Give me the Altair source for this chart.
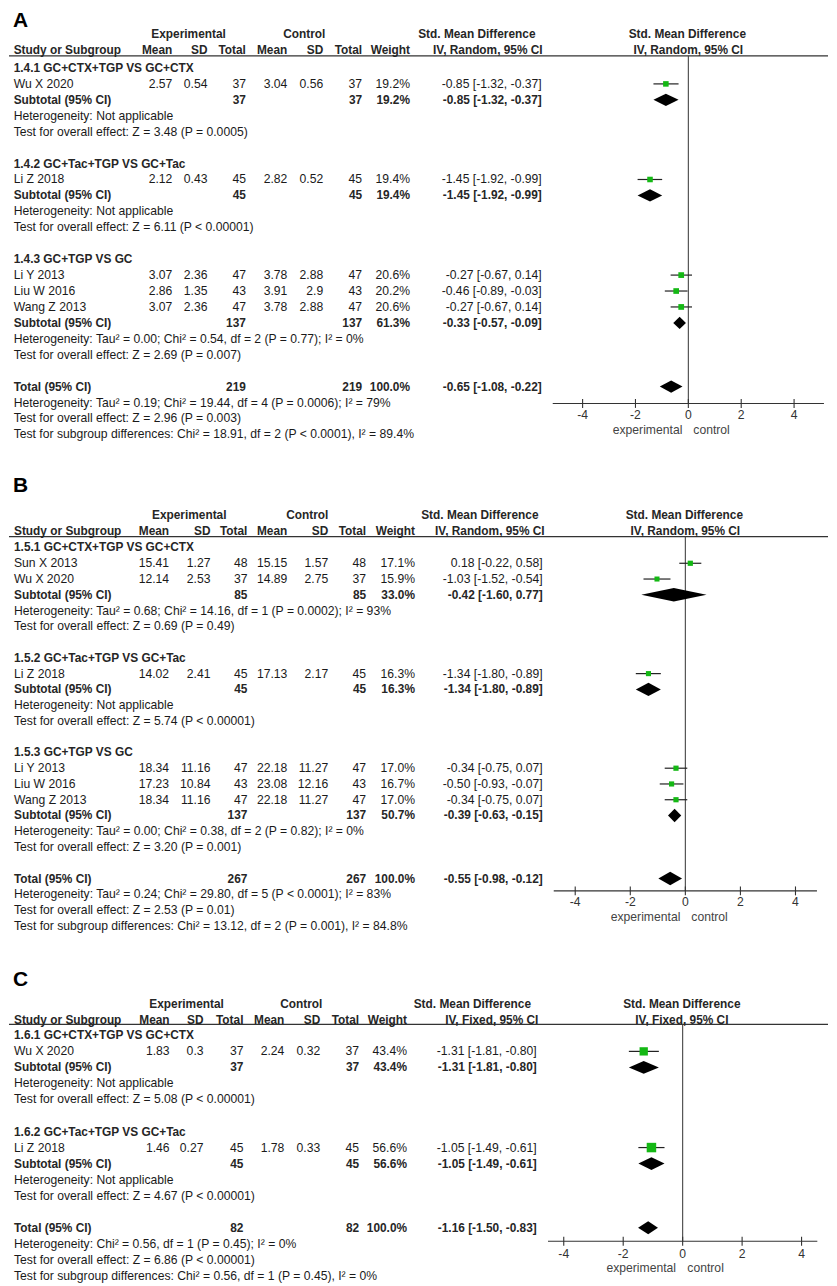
import altair as alt
import pandas as pd

SY = 0.992
OX, OY = 8.0, 5.0
W = 821
FONT = "Liberation Sans"
FS = 12.2
FSB = 11.9
TXT = "#1a1a1a"
GREEN = "#14b814"

# ---------------- Panel A data ----------------
A_groups = ["1.4.1 GC+CTX+TGP VS GC+CTX", "1.4.2 GC+Tac+TGP VS GC+Tac", "1.4.3 GC+TGP VS GC"]
A_studies = ["Wu X 2020", "Li Z 2018", "Li Y 2013", "Liu W 2016", "Wang Z 2013"]
A_study_group = [0, 1, 2, 2, 2]
A_exp_mean = [2.57, 2.12, 3.07, 2.86, 3.07]
A_exp_sd = [0.54, 0.43, 2.36, 1.35, 2.36]
A_exp_n = [37, 45, 47, 43, 47]
A_ctl_mean = [3.04, 2.82, 3.78, 3.91, 3.78]
A_ctl_sd = [0.56, 0.52, 2.88, 2.9, 2.88]
A_ctl_n = [37, 45, 47, 43, 47]
A_weight = [19.2, 19.4, 20.6, 20.2, 20.6]
A_smd = [-0.85, -1.45, -0.27, -0.46, -0.27]
A_lo = [-1.32, -1.92, -0.67, -0.89, -0.67]
A_hi = [-0.37, -0.99, 0.14, -0.03, 0.14]
A_sub_exp_n = [37, 45, 137]
A_sub_ctl_n = [37, 45, 137]
A_sub_weight = [19.2, 19.4, 61.3]
A_sub_smd = [-0.85, -1.45, -0.33]
A_sub_lo = [-1.32, -1.92, -0.57]
A_sub_hi = [-0.37, -0.99, -0.09]
A_sub_het = ["Heterogeneity: Not applicable",
             "Heterogeneity: Not applicable",
             "Heterogeneity: Tau² = 0.00; Chi² = 0.54, df = 2 (P = 0.77); I² = 0%"]
A_sub_test = ["Test for overall effect: Z = 3.48 (P = 0.0005)",
              "Test for overall effect: Z = 6.11 (P < 0.00001)",
              "Test for overall effect: Z = 2.69 (P = 0.007)"]
A_total_n = [219, 219]
A_total_weight = [100.0]
A_total_est = [-0.65, -1.08, -0.22]
A_total_text = ["Heterogeneity: Tau² = 0.19; Chi² = 19.44, df = 4 (P = 0.0006); I² = 79%",
                "Test for overall effect: Z = 2.96 (P = 0.003)",
                "Test for subgroup differences: Chi² = 18.91, df = 2 (P < 0.0001), I² = 89.4%"]

# ---------------- Panel B data ----------------
B_groups = ["1.5.1 GC+CTX+TGP VS GC+CTX", "1.5.2 GC+Tac+TGP VS GC+Tac", "1.5.3 GC+TGP VS GC"]
B_studies = ["Sun X 2013", "Wu X 2020", "Li Z 2018", "Li Y 2013", "Liu W 2016", "Wang Z 2013"]
B_study_group = [0, 0, 1, 2, 2, 2]
B_exp_mean = [15.41, 12.14, 14.02, 18.34, 17.23, 18.34]
B_exp_sd = [1.27, 2.53, 2.41, 11.16, 10.84, 11.16]
B_exp_n = [48, 37, 45, 47, 43, 47]
B_ctl_mean = [15.15, 14.89, 17.13, 22.18, 23.08, 22.18]
B_ctl_sd = [1.57, 2.75, 2.17, 11.27, 12.16, 11.27]
B_ctl_n = [48, 37, 45, 47, 43, 47]
B_weight = [17.1, 15.9, 16.3, 17.0, 16.7, 17.0]
B_smd = [0.18, -1.03, -1.34, -0.34, -0.50, -0.34]
B_lo = [-0.22, -1.52, -1.80, -0.75, -0.93, -0.75]
B_hi = [0.58, -0.54, -0.89, 0.07, -0.07, 0.07]
B_sub_exp_n = [85, 45, 137]
B_sub_ctl_n = [85, 45, 137]
B_sub_weight = [33.0, 16.3, 50.7]
B_sub_smd = [-0.42, -1.34, -0.39]
B_sub_lo = [-1.60, -1.80, -0.63]
B_sub_hi = [0.77, -0.89, -0.15]
B_sub_het = ["Heterogeneity: Tau² = 0.68; Chi² = 14.16, df = 1 (P = 0.0002); I² = 93%",
             "Heterogeneity: Not applicable",
             "Heterogeneity: Tau² = 0.00; Chi² = 0.38, df = 2 (P = 0.82); I² = 0%"]
B_sub_test = ["Test for overall effect: Z = 0.69 (P = 0.49)",
              "Test for overall effect: Z = 5.74 (P < 0.00001)",
              "Test for overall effect: Z = 3.20 (P = 0.001)"]
B_total_n = [267, 267]
B_total_weight = [100.0]
B_total_est = [-0.55, -0.98, -0.12]
B_total_text = ["Heterogeneity: Tau² = 0.24; Chi² = 29.80, df = 5 (P < 0.0001); I² = 83%",
                "Test for overall effect: Z = 2.53 (P = 0.01)",
                "Test for subgroup differences: Chi² = 13.12, df = 2 (P = 0.001), I² = 84.8%"]

# ---------------- Panel C data ----------------
C_groups = ["1.6.1 GC+CTX+TGP VS GC+CTX", "1.6.2 GC+Tac+TGP VS GC+Tac"]
C_studies = ["Wu X 2020", "Li Z 2018"]
C_study_group = [0, 1]
C_exp_mean = [1.83, 1.46]
C_exp_sd = [0.3, 0.27]
C_exp_n = [37, 45]
C_ctl_mean = [2.24, 1.78]
C_ctl_sd = [0.32, 0.33]
C_ctl_n = [37, 45]
C_weight = [43.4, 56.6]
C_smd = [-1.31, -1.05]
C_lo = [-1.81, -1.49]
C_hi = [-0.80, -0.61]
C_sub_exp_n = [37, 45]
C_sub_ctl_n = [37, 45]
C_sub_weight = [43.4, 56.6]
C_sub_smd = [-1.31, -1.05]
C_sub_lo = [-1.81, -1.49]
C_sub_hi = [-0.80, -0.61]
C_sub_het = ["Heterogeneity: Not applicable", "Heterogeneity: Not applicable"]
C_sub_test = ["Test for overall effect: Z = 5.08 (P < 0.00001)",
              "Test for overall effect: Z = 4.67 (P < 0.00001)"]
C_total_n = [82, 82]
C_total_weight = [100.0]
C_total_est = [-1.16, -1.50, -0.83]
C_total_text = ["Heterogeneity: Chi² = 0.56, df = 1 (P = 0.45); I² = 0%",
                "Test for overall effect: Z = 6.86 (P < 0.00001)",
                "Test for subgroup differences: Chi² = 0.56, df = 1 (P = 0.45), I² = 0%"]

TICKS = [-4, -2, 0, 2, 4]


def px(x):
    return round(min(max(x - OX, 0), W), 2)


def ci_text(e, l, h):
    return f"{e:.2f} [{l:.2f}, {h:.2f}]"


def make_panel(letter, method, D, G):
    cells, pts, dia = [], [], []

    def add(y, col, text, bold):
        cells.append(dict(y=y, col=col, text=text, bold=bold))

    def ry(i):
        return G["r0"] + i * G["sp"]

    def add_diamond(y, e, l, h):
        k = len(dia) // 3
        dia.extend([dict(id=k, x=l, y1=y, y2=y),
                    dict(id=k, x=e, y1=y - G["dh"], y2=y + G["dh"]),
                    dict(id=k, x=h, y1=y, y2=y)])

    # headers
    add(G["h1"], "h_exp", "Experimental", True)
    add(G["h1"], "h_ctl", "Control", True)
    add(G["h1"], "h_smd1", "Std. Mean Difference", True)
    add(G["h1"], "h_f1", "Std. Mean Difference", True)
    for col, t in zip(["label", "em", "esd", "en", "cm", "csd", "cn", "w"],
                      ["Study or Subgroup", "Mean", "SD", "Total", "Mean", "SD", "Total", "Weight"]):
        add(G["h2"], col, t, True)
    add(G["h2"], "h_smd2", method, True)
    add(G["h2"], "h_f2", method, True)

    i = 0
    for gi, gname in enumerate(D["groups"]):
        add(ry(i), "label", gname, True)
        i += 1
        for k in range(len(D["studies"])):
            if D["sg"][k] != gi:
                continue
            y = ry(i)
            add(y, "label", D["studies"][k], False)
            add(y, "em", f"{D['em'][k]:g}", False)
            add(y, "esd", f"{D['esd'][k]:g}", False)
            add(y, "en", f"{D['en'][k]}", False)
            add(y, "cm", f"{D['cm'][k]:g}", False)
            add(y, "csd", f"{D['csd'][k]:g}", False)
            add(y, "cn", f"{D['cn'][k]}", False)
            add(y, "w", f"{D['w'][k]:.1f}%", False)
            add(y, "ci", ci_text(D["smd"][k], D["lo"][k], D["hi"][k]), False)
            pts.append(dict(y=y, est=D["smd"][k], lo=D["lo"][k], hi=D["hi"][k], w=D["w"][k]))
            i += 1
        y = ry(i)
        add(y, "label", "Subtotal (95% CI)", True)
        add(y, "en", f"{D['sen'][gi]}", True)
        add(y, "cn", f"{D['scn'][gi]}", True)
        add(y, "w", f"{D['sw'][gi]:.1f}%", True)
        add(y, "ci", ci_text(D["ssmd"][gi], D["slo"][gi], D["shi"][gi]), True)
        add_diamond(y, D["ssmd"][gi], D["slo"][gi], D["shi"][gi])
        i += 1
        add(ry(i), "label", D["shet"][gi], False)
        i += 1
        add(ry(i), "label", D["stest"][gi], False)
        i += 2
    y = ry(i)
    add(y, "label", "Total (95% CI)", True)
    add(y, "en", f"{D['tn'][0]}", True)
    add(y, "cn", f"{D['tn'][1]}", True)
    add(y, "w", f"{D['tw'][0]:.1f}%", True)
    add(y, "ci", ci_text(*D["test"]), True)
    add_diamond(y, *D["test"])
    i += 1
    for t in D["ttext"]:
        add(ry(i), "label", t, False)
        i += 1

    cdf = pd.DataFrame(cells)
    yscale = alt.Scale(domain=[G["T"], G["B"]], range=[0, (G["B"] - G["T"]) * SY], nice=False, zero=False)
    L = G["L"]
    xscale = alt.Scale(domain=[-L, L], range=[px(G["x0"] - L * G["ppu"]), px(G["x0"] + L * G["ppu"])],
                       nice=False, zero=False)
    Y = lambda f="y": alt.Y(f"{f}:Q", scale=yscale, axis=None)
    X = lambda f="x": alt.X(f"{f}:Q", scale=xscale, axis=None)

    layers = []
    # header line
    layers.append(alt.Chart(pd.DataFrame({"y": [G["line"]]})).mark_rule(color="#333", strokeWidth=1.3)
                  .encode(x=alt.value(px(G["lx"][0])), x2=alt.value(px(G["lx"][1])), y=Y()))
    # zero line
    layers.append(alt.Chart(pd.DataFrame({"x": [0], "y": [G["line"]], "y2": [G["axis"]]}))
                  .mark_rule(color="#444", strokeWidth=1.1).encode(x=X(), y=Y(), y2="y2:Q"))
    # axis line
    layers.append(alt.Chart(pd.DataFrame({"x": [-L], "x2": [L], "y": [G["axis"]]}))
                  .mark_rule(color="#333", strokeWidth=1.1).encode(x=X(), x2="x2:Q", y=Y()))
    tdf = pd.DataFrame({"x": TICKS, "y": [G["axis"] - 4.5] * 5, "y2": [G["axis"] + 4.5] * 5,
                        "ly": [G["tick"]] * 5, "t": [str(t) for t in TICKS]})
    layers.append(alt.Chart(tdf).mark_rule(color="#333", strokeWidth=1.1).encode(x=X(), y=Y(), y2="y2:Q"))
    layers.append(alt.Chart(tdf).mark_text(font=FONT, fontSize=FS, color="#333", baseline="middle")
                  .encode(x=X(), y=Y("ly"), text="t:N"))
    ecdf = pd.DataFrame({"x": [0], "y": [G["ec"]]})
    layers.append(alt.Chart(ecdf).mark_text(font=FONT, fontSize=FS, color="#444", baseline="middle",
                                            align="right", dx=-G["edx"], text="experimental")
                  .encode(x=X(), y=Y()))
    layers.append(alt.Chart(ecdf).mark_text(font=FONT, fontSize=FS, color="#444", baseline="middle",
                                            align="left", dx=G["cdx"], text="control")
                  .encode(x=X(), y=Y()))
    # CI lines and squares
    pdf = pd.DataFrame(pts)
    layers.append(alt.Chart(pdf).mark_rule(color="#222", strokeWidth=1.2)
                  .encode(x=X("lo"), x2="hi:Q", y=Y()))
    layers.append(alt.Chart(pdf).mark_square(color=GREEN, opacity=1)
                  .encode(x=X("est"), y=Y(),
                          size=alt.Size("w:Q", scale=alt.Scale(domain=[0, 100], range=[0, G["sq"] * 100]),
                                        legend=None)))
    # diamonds
    layers.append(alt.Chart(pd.DataFrame(dia)).mark_area(orient="vertical", color="#000", opacity=1,
                                                         interpolate="linear")
                  .encode(x=X(), y=Y("y1"), y2="y2:Q", detail="id:N"))
    # table text
    for col, (xr, align) in G["cols"].items():
        for bold in (False, True):
            sub = cdf[(cdf.col == col) & (cdf.bold == bold)]
            if len(sub) == 0:
                continue
            layers.append(alt.Chart(sub).mark_text(font=FONT, fontSize=FSB if bold else FS, align=align,
                                                   baseline="middle",
                                                   fontWeight="bold" if bold else "normal",
                                                   color="#262626" if bold else TXT)
                          .encode(x=alt.value(px(xr)), y=Y(), text="text:N"))
    # panel letter
    layers.append(alt.Chart(pd.DataFrame({"y": [G["letter"]], "t": [letter]}))
                  .mark_text(font=FONT, fontSize=21, fontWeight="bold", align="left", baseline="middle",
                             color="#000")
                  .encode(x=alt.value(px(12)), y=Y(), text="t:N"))
    return alt.layer(*layers).properties(width=W, height=(G["B"] - G["T"]) * SY)


def pack(p):
    return dict(groups=p[0], studies=p[1], sg=p[2], em=p[3], esd=p[4], en=p[5], cm=p[6], csd=p[7],
                cn=p[8], w=p[9], smd=p[10], lo=p[11], hi=p[12], sen=p[13], scn=p[14], sw=p[15],
                ssmd=p[16], slo=p[17], shi=p[18], shet=p[19], stest=p[20], tn=p[21], tw=p[22],
                test=p[23], ttext=p[24])


DA = pack([A_groups, A_studies, A_study_group, A_exp_mean, A_exp_sd, A_exp_n, A_ctl_mean, A_ctl_sd,
           A_ctl_n, A_weight, A_smd, A_lo, A_hi, A_sub_exp_n, A_sub_ctl_n, A_sub_weight, A_sub_smd,
           A_sub_lo, A_sub_hi, A_sub_het, A_sub_test, A_total_n, A_total_weight, A_total_est, A_total_text])
DB = pack([B_groups, B_studies, B_study_group, B_exp_mean, B_exp_sd, B_exp_n, B_ctl_mean, B_ctl_sd,
           B_ctl_n, B_weight, B_smd, B_lo, B_hi, B_sub_exp_n, B_sub_ctl_n, B_sub_weight, B_sub_smd,
           B_sub_lo, B_sub_hi, B_sub_het, B_sub_test, B_total_n, B_total_weight, B_total_est, B_total_text])
DC = pack([C_groups, C_studies, C_study_group, C_exp_mean, C_exp_sd, C_exp_n, C_ctl_mean, C_ctl_sd,
           C_ctl_n, C_weight, C_smd, C_lo, C_hi, C_sub_exp_n, C_sub_ctl_n, C_sub_weight, C_sub_smd,
           C_sub_lo, C_sub_hi, C_sub_het, C_sub_test, C_total_n, C_total_weight, C_total_est, C_total_text])


def cols(lab, em, esd, en, cm, csd, cn, w, ci, hexp, hctl, s1, s2, f1, f2):
    return {"label": (lab, "left"), "em": (em, "right"), "esd": (esd, "right"), "en": (en, "right"),
            "cm": (cm, "right"), "csd": (csd, "right"), "cn": (cn, "right"), "w": (w, "right"),
            "ci": (ci, "right"), "h_exp": (hexp, "center"), "h_ctl": (hctl, "center"),
            "h_smd1": (s1, "center"), "h_smd2": (s2, "center"), "h_f1": (f1, "center"), "h_f2": (f2, "center")}


GA = dict(T=5, B=452, r0=60, sp=16.1, letter=13, h1=26, h2=42, line=47.7, axis=399, tick=411, ec=426,
          x0=689, ppu=26.5, L=5.13, lx=(3, 835), sq=1.6, dh=6.2, edx=6, cdx=5,
          cols=cols(12.7, 171.7, 207, 245.5, 287, 323, 362, 410, 542, 188, 304, 477, 488, 688, 689))
GB = dict(T=452, B=948, r0=544, sp=15.93, letter=482, h1=511, h2=527, line=533, axis=891, tick=902, ec=917.7,
          x0=686, ppu=27.6, L=4.78, lx=(4, 830), sq=1.4, dh=6.8, edx=5, cdx=6,
          cols=cols(13, 168.5, 210, 247, 287, 328, 366, 415, 543, 188.7, 307, 480, 490, 685, 686))
GC = dict(T=948, B=1285, r0=1036, sp=16.2, letter=980, h1=1004, h2=1020, line=1025, axis=1244, tick=1256.7,
          ec=1271, x0=683.3, ppu=29.8, L=4.53, lx=(5, 830), sq=2.2, dh=6.5, edx=6.6, cdx=4.7,
          cols=cols(13, 169, 203, 243, 284, 320, 359, 407, 537, 186, 301, 472.5, 492, 682.5, 682.5))

pA = make_panel("A", "IV, Random, 95% CI", DA, GA)
pB = make_panel("B", "IV, Random, 95% CI", DB, GB)
pC = make_panel("C", "IV, Fixed, 95% CI", DC, GC)

chart = (alt.vconcat(pA, pB, pC, spacing=0, bounds="flush")
         .properties(padding=0)
         .configure_view(strokeWidth=0))

chart.save("out.html", embed_options={"renderer": "svg", "actions": False})
